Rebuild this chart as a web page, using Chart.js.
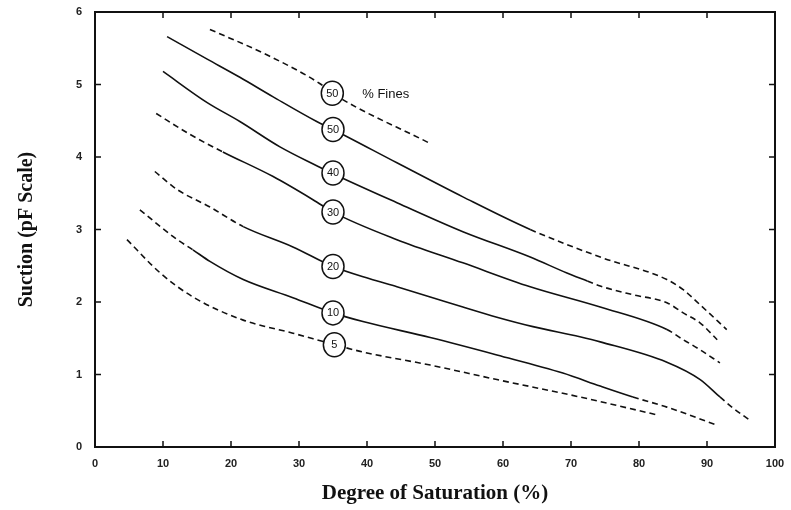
<!DOCTYPE html>
<html>
<head>
<meta charset="utf-8">
<script src="https://cdn.jsdelivr.net/npm/chart.js@4"></script>
<style>
  html, body { margin: 0; padding: 0; background: #fff; }
  #wrap { width: 791px; height: 510px; }
</style>
</head>
<body>
<div id="wrap"><canvas id="chart" width="791" height="510"></canvas></div>
<script>
// degree of saturation (%) and suction (pF)
const satTop = [16.9, 25.7, 33.1, 34.9, 49.0];
const suctTop = [5.76, 5.39, 5.01, 4.88, 4.20];

const sat50 = [10.6, 16.5, 21.3, 26.2, 32.6, 35.0, 44.4, 54.1, 64.0, 74.3, 84.1, 86.5, 89.0, 92.9];
const suct50 = [5.66, 5.35, 5.10, 4.83, 4.49, 4.38, 3.92, 3.45, 3.00, 2.62, 2.31, 2.17, 1.96, 1.62];

const sat40 = [10.0, 16.5, 21.3, 27.2, 32.6, 35.0, 44.4, 54.1, 64.0, 69.4, 72.4, 74.3, 79.1, 84.1, 86.5, 89.0, 91.5];
const suct40 = [5.18, 4.75, 4.49, 4.14, 3.88, 3.77, 3.37, 2.97, 2.62, 2.40, 2.29, 2.22, 2.10, 1.99, 1.85, 1.71, 1.48];

const sat30 = [9.0, 14.0, 18.8, 26.2, 32.6, 35.0, 44.4, 54.1, 64.0, 74.3, 84.1, 86.5, 89.0, 91.9];
const suct30 = [4.60, 4.31, 4.07, 3.73, 3.38, 3.24, 2.86, 2.54, 2.21, 1.93, 1.62, 1.48, 1.34, 1.16];

const sat20 = [8.8, 12.1, 16.9, 21.8, 29.1, 35.0, 40.4, 44.4, 49.3, 54.1, 59.1, 64.4, 71.3, 74.3, 84.1, 89.0, 91.9, 93.8, 96.3];
const suct20 = [3.80, 3.55, 3.31, 3.04, 2.76, 2.49, 2.32, 2.21, 2.07, 1.93, 1.79, 1.66, 1.52, 1.45, 1.17, 0.93, 0.69, 0.54, 0.37];

const sat10 = [6.6, 12.1, 14.4, 16.9, 21.8, 29.1, 35.0, 39.4, 49.3, 59.1, 68.8, 74.3, 79.1, 84.1, 91.5];
const suct10 = [3.27, 2.86, 2.72, 2.56, 2.31, 2.06, 1.85, 1.73, 1.51, 1.27, 1.02, 0.84, 0.69, 0.55, 0.30];

const sat5 = [4.7, 9.6, 14.4, 21.8, 29.1, 35.3, 39.4, 49.3, 59.1, 71.3, 82.8];
const suct5 = [2.86, 2.40, 2.07, 1.75, 1.57, 1.41, 1.31, 1.13, 0.93, 0.69, 0.44];

// dashed below dashUntil and from dashFrom on
const dashUntil = [Infinity, 0, 0, 18.8, 21.8, 14.4, Infinity];
const dashFrom = [Infinity, 64.0, 72.4, 84.1, 91.9, 79.1, Infinity];

// circled % fines labels
const labelText = ['50', '50', '40', '30', '20', '10', '5'];
const labelX = [34.9, 35.0, 35.0, 35.0, 35.0, 35.0, 35.2];
const labelY = [4.88, 4.38, 3.78, 3.24, 2.49, 1.85, 1.41];

const xTicks = [0, 10, 20, 30, 40, 50, 60, 70, 80, 90, 100];
const yTicks = [0, 1, 2, 3, 4, 5, 6];

const satAll = [satTop, sat50, sat40, sat30, sat20, sat10, sat5];
const suctAll = [suctTop, suct50, suct40, suct30, suct20, suct10, suct5];

const datasets = satAll.map(function (xs, i) {
  return {
    data: xs.map(function (x, j) { return { x: x, y: suctAll[i][j] }; }),
    borderColor: '#111',
    borderWidth: 1.6,
    pointRadius: 0,
    fill: false,
    cubicInterpolationMode: 'monotone',
    segment: {
      borderDash: function (ctx) {
        var x0 = ctx.p0.parsed.x;
        return (x0 < dashUntil[i] || x0 >= dashFrom[i]) ? [6, 4] : undefined;
      }
    }
  };
});

const frameAndLabels = {
  id: 'frameAndLabels',
  afterDatasetsDraw: function (chart) {
    const ctx = chart.ctx;
    const a = chart.chartArea;
    const xs = chart.scales.x, ys = chart.scales.y;
    ctx.save();
    ctx.strokeStyle = '#111';
    ctx.lineWidth = 2;
    ctx.strokeRect(a.left, a.top, a.right - a.left, a.bottom - a.top);
    ctx.lineWidth = 1.5;
    ctx.beginPath();
    xTicks.slice(1, -1).forEach(function (v) {
      var px = xs.getPixelForValue(v);
      ctx.moveTo(px, a.bottom); ctx.lineTo(px, a.bottom - 6);
      ctx.moveTo(px, a.top); ctx.lineTo(px, a.top + 6);
    });
    yTicks.slice(1, -1).forEach(function (v) {
      var py = ys.getPixelForValue(v);
      ctx.moveTo(a.left, py); ctx.lineTo(a.left + 6, py);
      ctx.moveTo(a.right, py); ctx.lineTo(a.right - 6, py);
    });
    ctx.stroke();

    ctx.font = '11px "Liberation Sans", Arial, sans-serif';
    ctx.textAlign = 'center';
    ctx.textBaseline = 'middle';
    labelText.forEach(function (t, i) {
      var cx = xs.getPixelForValue(labelX[i]);
      var cy = ys.getPixelForValue(labelY[i]);
      ctx.beginPath();
      ctx.ellipse(cx, cy, 11, 12, 0, 0, Math.PI * 2);
      ctx.fillStyle = '#fff';
      ctx.fill();
      ctx.lineWidth = 1.5;
      ctx.stroke();
      ctx.fillStyle = '#111';
      ctx.fillText(t, cx, cy + 0.5);
    });
    ctx.textAlign = 'left';
    ctx.font = '13px "Liberation Sans", Arial, sans-serif';
    ctx.fillText('% Fines', xs.getPixelForValue(39.3), ys.getPixelForValue(4.86));
    ctx.restore();
  }
};

new Chart(document.getElementById('chart'), {
  type: 'line',
  data: { datasets: datasets },
  options: {
    responsive: false,
    animation: false,
    layout: { padding: { left: 0, top: 12, right: 16, bottom: 0 } },
    plugins: { legend: { display: false }, tooltip: { enabled: false } },
    scales: {
      x: {
        type: 'linear',
        min: 0, max: 100,
        afterBuildTicks: function (s) { s.ticks = xTicks.map(function (v) { return { value: v }; }); },
        afterFit: function (s) { s.height = 63; s.paddingLeft = 0; s.paddingRight = 0; },
        grid: { display: false, drawTicks: false },
        border: { display: false },
        ticks: { color: '#222', padding: 10, font: { family: '"Liberation Sans", Arial, sans-serif', size: 11, weight: 'bold' } },
        title: { display: true, text: 'Degree of Saturation (%)', color: '#111', padding: { top: 4 },
                 font: { family: '"Liberation Serif", "Times New Roman", serif', size: 21, weight: 'bold' } }
      },
      y: {
        type: 'linear',
        min: 0, max: 6,
        afterBuildTicks: function (s) { s.ticks = yTicks.map(function (v) { return { value: v }; }); },
        afterFit: function (s) { s.width = 95; s.paddingTop = 0; s.paddingBottom = 0; },
        grid: { display: false, drawTicks: false },
        border: { display: false },
        ticks: { color: '#222', padding: 13, font: { family: '"Liberation Sans", Arial, sans-serif', size: 11, weight: 'bold' } },
        title: { display: true, text: 'Suction (pF Scale)', color: '#111', padding: { top: 15, bottom: 0 },
                 font: { family: '"Liberation Serif", "Times New Roman", serif', size: 20, weight: 'bold' } }
      }
    }
  },
  plugins: [frameAndLabels]
});
</script>
</body>
</html>
